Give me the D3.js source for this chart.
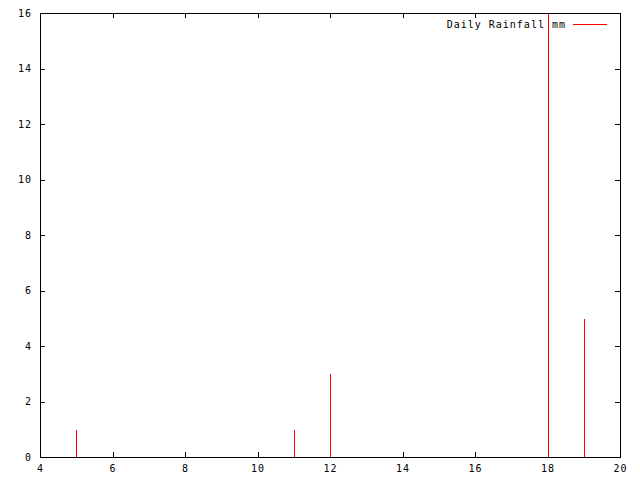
<!DOCTYPE html>
<html>
<head>
<meta charset="utf-8">
<script src="https://cdn.jsdelivr.net/npm/d3@7"></script>
<style>
body { margin: 0; background: #fff; }
text { font-family: "DejaVu Sans Mono", monospace; font-size: 10px; letter-spacing: 1px; fill: #000; }
</style>
</head>
<body>
<div id="chart"></div>
<script>
var svgWidth = 640;
var svgHeight = 480;

// data
var days = [5, 11, 12, 18, 19];
var rainfall = [1, 1, 3, 16, 5];
var xTicks = [4, 6, 8, 10, 12, 14, 16, 18, 20];
var yTicks = [0, 2, 4, 6, 8, 10, 12, 14, 16];
var seriesName = "Daily Rainfall mm";

var margin = { top: 13, right: 20, bottom: 23, left: 40 };
var width = svgWidth - margin.left - margin.right;
var height = svgHeight - margin.top - margin.bottom;

var svg = d3.select("#chart")
    .append("svg")
    .attr("width", svgWidth)
    .attr("height", svgHeight);

var chartGroup = svg.append("g")
    .attr("transform", `translate(${margin.left},${margin.top})`);

var xScale = d3.scaleLinear().domain([4, 20]).range([0, width]);
var yScale = d3.scaleLinear().domain([0, 16]).range([height, 0]);

// inward ticks on all four sides, gnuplot style
function styleAxis(g) {
    g.select(".domain").remove();
    g.selectAll("line").attr("stroke", "#000").attr("shape-rendering", "crispEdges");
}

chartGroup.append("g")
    .attr("transform", `translate(0,${height})`)
    .call(d3.axisBottom(xScale).tickValues(xTicks).tickSizeInner(-5).tickSizeOuter(0).tickPadding(8))
    .call(styleAxis)
    .selectAll("text").attr("font-family", null).attr("font-size", null);

chartGroup.append("g")
    .call(d3.axisTop(xScale).tickValues(xTicks).tickSizeInner(-5).tickSizeOuter(0))
    .call(styleAxis)
    .selectAll("text").remove();

chartGroup.append("g")
    .call(d3.axisLeft(yScale).tickValues(yTicks).tickSizeInner(-5).tickSizeOuter(0).tickPadding(8))
    .call(styleAxis)
    .selectAll("text").attr("font-family", null).attr("font-size", null);

chartGroup.append("g")
    .attr("transform", `translate(${width},0)`)
    .call(d3.axisRight(yScale).tickValues(yTicks).tickSizeInner(-5).tickSizeOuter(0))
    .call(styleAxis)
    .selectAll("text").remove();

// impulses
chartGroup.append("g")
    .selectAll("line")
    .data(days)
    .enter()
    .append("line")
    .attr("x1", d => xScale(d) + 0.5)
    .attr("x2", d => xScale(d) + 0.5)
    .attr("y1", yScale(0) + 0.5)
    .attr("y2", (d, i) => yScale(rainfall[i]) + 0.5)
    .attr("stroke", "red")
    .attr("shape-rendering", "crispEdges");

// border box
chartGroup.append("rect")
    .attr("x", 0.5)
    .attr("y", 0.5)
    .attr("width", width)
    .attr("height", height)
    .attr("fill", "none")
    .attr("stroke", "#000")
    .attr("shape-rendering", "crispEdges");

// key
chartGroup.append("text")
    .attr("x", 526)
    .attr("y", 11)
    .attr("dy", "0.35em")
    .attr("text-anchor", "end")
    .text(seriesName);

chartGroup.append("line")
    .attr("x1", 533)
    .attr("x2", 567)
    .attr("y1", 11.5)
    .attr("y2", 11.5)
    .attr("stroke", "red")
    .attr("shape-rendering", "crispEdges");
</script>
</body>
</html>
